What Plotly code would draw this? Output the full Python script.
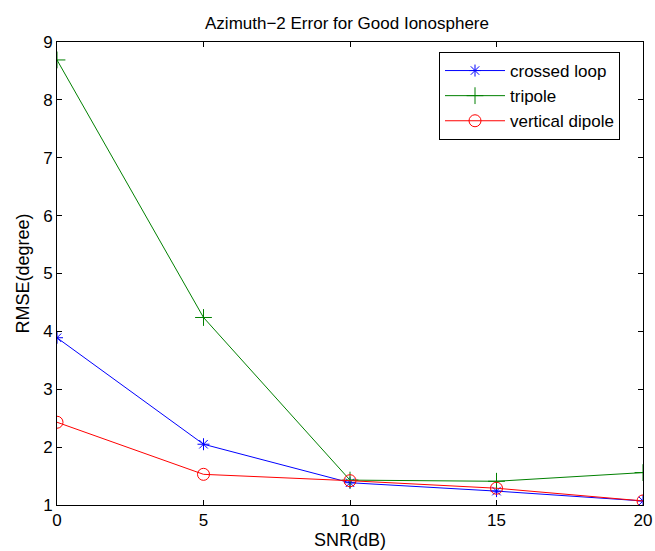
import plotly.graph_objects as go

snr = [0, 5, 10, 15, 20]
crossed_loop = [3.89, 2.05, 1.385, 1.24, 1.07]
tripole = [8.69, 4.24, 1.43, 1.41, 1.56]
vertical_dipole = [2.43, 1.53, 1.42, 1.29, 1.07]

x_ticks = [0, 5, 10, 15, 20]
y_ticks = [1, 2, 3, 4, 5, 6, 7, 8, 9]

fig = go.Figure()
fig.add_trace(go.Scatter(x=snr, y=crossed_loop, name="crossed loop", mode="lines+markers",
                         line=dict(color="#0000ff", width=1),
                         marker=dict(symbol="asterisk-open", size=10, color="#0000ff", line=dict(width=1, color="#0000ff"))))
fig.add_trace(go.Scatter(x=snr, y=tripole, name="tripole", mode="lines+markers",
                         line=dict(color="#008000", width=1),
                         marker=dict(symbol="cross-thin-open", size=12, color="#008000", line=dict(width=1, color="#008000"))))
fig.add_trace(go.Scatter(x=snr, y=vertical_dipole, name="vertical dipole", mode="lines+markers",
                         line=dict(color="#ff0000", width=1),
                         marker=dict(symbol="circle-open", size=12, color="#ff0000", line=dict(width=1, color="#ff0000"))))

axis_common = dict(showgrid=False, zeroline=False, showline=True, linecolor="black", linewidth=1,
                   mirror="ticks", ticks="inside", ticklen=5, tickcolor="black", automargin=False,
                   tickfont=dict(size=17, color="black"))

fig.update_layout(
    width=655, height=551,
    margin=dict(l=57, r=12, t=42, b=46),
    paper_bgcolor="white", plot_bgcolor="white",
    font=dict(family="Liberation Sans, Arial, sans-serif", color="black"),
    title=dict(text="Azimuth\u22122 Error for Good Ionosphere", x=347 / 655, xanchor="center",
               y=1 - 23 / 551, yanchor="middle", font=dict(size=17)),
    xaxis=dict(range=[0, 20], tickvals=x_ticks, title=dict(text="SNR(dB)", font=dict(size=18), standoff=0), **axis_common),
    yaxis=dict(range=[1, 9], tickvals=y_ticks, title=dict(text="RMSE(degree)", font=dict(size=18), standoff=8), **axis_common),
    legend=dict(x=(439 - 57) / 586, y=1 - (52 - 42) / 463, xanchor="left", yanchor="top", bordercolor="black", borderwidth=1,
                bgcolor="white", font=dict(size=17), itemwidth=60, tracegroupgap=0),
    showlegend=True,
)

fig.write_html("out.html")
